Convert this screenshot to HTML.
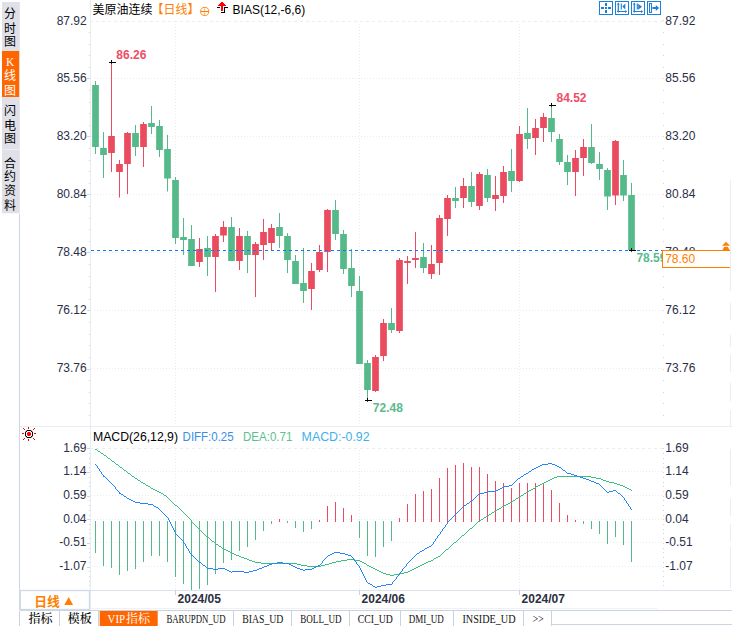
<!DOCTYPE html>
<html lang="zh-CN"><head><meta charset="utf-8"><title>美原油连续 日线 MACD</title>
<style>html,body{margin:0;padding:0;background:#fff;}body{width:732px;height:626px;position:relative;overflow:hidden;font-family:"Liberation Sans","Noto Sans CJK SC",sans-serif;}</style>
</head><body>
<svg width="732" height="626" viewBox="0 0 732 626" style="position:absolute;left:0;top:0">
<rect width="732" height="626" fill="#fff"/>
<rect x="2" y="2" width="17.8" height="211.3" fill="#e0e0e8"/>
<rect x="2" y="51" width="17.1" height="46" fill="#ff6600"/>
<rect x="2" y="149" width="17.8" height="1" fill="#eceef4"/>
<g font-family="'Liberation Sans','Noto Sans CJK SC',sans-serif" font-size="12" text-anchor="middle">
<text x="9.9" y="17.7" fill="#000">分</text>
<text x="9.9" y="32.5" fill="#000">时</text>
<text x="9.9" y="45.7" fill="#000">图</text>
<text x="9.9" y="80.3" fill="#fff">线</text>
<text x="9.9" y="94.9" fill="#fff">图</text>
<text x="9.9" y="115.0" fill="#000">闪</text>
<text x="9.9" y="130.0" fill="#000">电</text>
<text x="9.9" y="143.3" fill="#000">图</text>
<text x="9.9" y="168.1" fill="#000">合</text>
<text x="9.9" y="180.8" fill="#000">约</text>
<text x="9.9" y="195.4" fill="#000">资</text>
<text x="9.9" y="210.0" fill="#000">料</text>
</g>
<text x="10.1" y="65.9" fill="#fff" font-family="'Liberation Serif',serif" font-size="11.5" text-anchor="middle">K</text>
<g shape-rendering="crispEdges">
<rect x="19" y="214" width="1" height="396" fill="#cdd6e4"/>
<rect x="90" y="0" width="1" height="610" fill="#e8edf4"/>
<rect x="20" y="426" width="712" height="1" fill="#e8edf3"/>
<rect x="20" y="590" width="712" height="1" fill="#dbe2ec"/>
<rect x="730" y="180" width="1" height="111" fill="#e9edf3"/>
<rect x="730" y="303" width="1" height="17" fill="#e9edf3"/>
<rect x="730" y="335" width="1" height="12" fill="#e9edf3"/>
<rect x="730" y="355" width="1" height="17" fill="#e9edf3"/>
<rect x="730" y="383" width="1" height="18" fill="#e9edf3"/>
<rect x="730" y="410" width="1" height="16" fill="#e9edf3"/>
<rect x="730" y="449" width="1" height="37" fill="#e9edf3"/>
<rect x="730" y="499" width="1" height="17" fill="#e9edf3"/>
<rect x="730" y="524" width="1" height="17" fill="#e9edf3"/>
<rect x="730" y="547" width="1" height="41" fill="#e9edf3"/>
<rect x="90" y="607.5" width="567" height="1" fill="#eef1f5"/>
<rect x="20" y="609.7" width="712" height="1.5" fill="#c9d2de"/>
</g>
<g fill="none" stroke="#e8ecf1" stroke-width="1" shape-rendering="crispEdges">
<path d="M90 21.5H663" stroke-dasharray="3 3" stroke="#e6eef6"/>
<path d="M91 78.5H663" stroke-dasharray="1 2"/>
<path d="M91 136.5H663" stroke-dasharray="1 2"/>
<path d="M91 194.5H663" stroke-dasharray="1 2"/>
<path d="M91 252.5H663" stroke-dasharray="1 2"/>
<path d="M91 310.5H663" stroke-dasharray="1 2"/>
<path d="M91 368.5H663" stroke-dasharray="1 2"/>
<path d="M90 448.5H663" stroke-dasharray="3 3" stroke="#e6eef6"/>
<path d="M91 471.5H663" stroke-dasharray="1 2"/>
<path d="M91 495.5H663" stroke-dasharray="1 2"/>
<path d="M91 519.5H663" stroke-dasharray="1 2"/>
<path d="M91 542.5H663" stroke-dasharray="1 2"/>
<path d="M91 566.5H663" stroke-dasharray="1 2"/>
<path d="M175.5 24V426" stroke-dasharray="1 2"/>
<path d="M175.5 450V590" stroke-dasharray="1 2"/>
<path d="M359.5 24V426" stroke-dasharray="1 2"/>
<path d="M359.5 450V590" stroke-dasharray="1 2"/>
<path d="M519.5 24V426" stroke-dasharray="1 2"/>
<path d="M519.5 450V590" stroke-dasharray="1 2"/>
</g>
<g fill="#cfd5de" shape-rendering="crispEdges">
<rect x="663" y="20.0" width="1" height="1"/>
<rect x="89" y="32.0" width="1" height="1"/>
<rect x="663" y="32.0" width="1" height="1"/>
<rect x="89" y="44.0" width="1" height="1"/>
<rect x="663" y="44.0" width="1" height="1"/>
<rect x="89" y="55.0" width="1" height="1"/>
<rect x="663" y="55.0" width="1" height="1"/>
<rect x="89" y="67.0" width="1" height="1"/>
<rect x="663" y="67.0" width="1" height="1"/>
<rect x="87" y="78.0" width="3" height="1" />
<rect x="663" y="78.0" width="1" height="1"/>
<rect x="89" y="90.0" width="1" height="1"/>
<rect x="663" y="90.0" width="1" height="1"/>
<rect x="89" y="102.0" width="1" height="1"/>
<rect x="663" y="102.0" width="1" height="1"/>
<rect x="89" y="113.0" width="1" height="1"/>
<rect x="663" y="113.0" width="1" height="1"/>
<rect x="89" y="125.0" width="1" height="1"/>
<rect x="663" y="125.0" width="1" height="1"/>
<rect x="87" y="136.0" width="3" height="1" />
<rect x="663" y="136.0" width="1" height="1"/>
<rect x="89" y="148.0" width="1" height="1"/>
<rect x="663" y="148.0" width="1" height="1"/>
<rect x="89" y="160.0" width="1" height="1"/>
<rect x="663" y="160.0" width="1" height="1"/>
<rect x="89" y="171.0" width="1" height="1"/>
<rect x="663" y="171.0" width="1" height="1"/>
<rect x="89" y="183.0" width="1" height="1"/>
<rect x="663" y="183.0" width="1" height="1"/>
<rect x="87" y="194.0" width="3" height="1" />
<rect x="663" y="194.0" width="1" height="1"/>
<rect x="89" y="206.0" width="1" height="1"/>
<rect x="663" y="206.0" width="1" height="1"/>
<rect x="89" y="218.0" width="1" height="1"/>
<rect x="663" y="218.0" width="1" height="1"/>
<rect x="89" y="229.0" width="1" height="1"/>
<rect x="663" y="229.0" width="1" height="1"/>
<rect x="89" y="241.0" width="1" height="1"/>
<rect x="663" y="241.0" width="1" height="1"/>
<rect x="87" y="252.0" width="3" height="1" />
<rect x="663" y="252.0" width="1" height="1"/>
<rect x="89" y="264.0" width="1" height="1"/>
<rect x="663" y="264.0" width="1" height="1"/>
<rect x="89" y="276.0" width="1" height="1"/>
<rect x="663" y="276.0" width="1" height="1"/>
<rect x="89" y="287.0" width="1" height="1"/>
<rect x="663" y="287.0" width="1" height="1"/>
<rect x="89" y="299.0" width="1" height="1"/>
<rect x="663" y="299.0" width="1" height="1"/>
<rect x="87" y="310.0" width="3" height="1" />
<rect x="663" y="310.0" width="1" height="1"/>
<rect x="89" y="322.0" width="1" height="1"/>
<rect x="663" y="322.0" width="1" height="1"/>
<rect x="89" y="334.0" width="1" height="1"/>
<rect x="663" y="334.0" width="1" height="1"/>
<rect x="89" y="345.0" width="1" height="1"/>
<rect x="663" y="345.0" width="1" height="1"/>
<rect x="89" y="357.0" width="1" height="1"/>
<rect x="663" y="357.0" width="1" height="1"/>
<rect x="87" y="369.0" width="3" height="1" />
<rect x="663" y="369.0" width="1" height="1"/>
<rect x="89" y="380.0" width="1" height="1"/>
<rect x="663" y="380.0" width="1" height="1"/>
<rect x="89" y="392.0" width="1" height="1"/>
<rect x="663" y="392.0" width="1" height="1"/>
<rect x="89" y="403.0" width="1" height="1"/>
<rect x="663" y="403.0" width="1" height="1"/>
<rect x="89" y="415.0" width="1" height="1"/>
<rect x="663" y="415.0" width="1" height="1"/>
<rect x="87" y="448.0" width="3" height="1"/>
<rect x="663" y="448.0" width="1" height="1"/>
<rect x="89" y="453.0" width="1" height="1"/>
<rect x="663" y="453.0" width="1" height="1"/>
<rect x="89" y="458.0" width="1" height="1"/>
<rect x="663" y="458.0" width="1" height="1"/>
<rect x="89" y="463.0" width="1" height="1"/>
<rect x="663" y="463.0" width="1" height="1"/>
<rect x="89" y="467.0" width="1" height="1"/>
<rect x="663" y="467.0" width="1" height="1"/>
<rect x="87" y="472.0" width="3" height="1"/>
<rect x="663" y="472.0" width="1" height="1"/>
<rect x="89" y="477.0" width="1" height="1"/>
<rect x="663" y="477.0" width="1" height="1"/>
<rect x="89" y="482.0" width="1" height="1"/>
<rect x="663" y="482.0" width="1" height="1"/>
<rect x="89" y="486.0" width="1" height="1"/>
<rect x="663" y="486.0" width="1" height="1"/>
<rect x="89" y="491.0" width="1" height="1"/>
<rect x="663" y="491.0" width="1" height="1"/>
<rect x="87" y="496.0" width="3" height="1"/>
<rect x="663" y="496.0" width="1" height="1"/>
<rect x="89" y="500.0" width="1" height="1"/>
<rect x="663" y="500.0" width="1" height="1"/>
<rect x="89" y="505.0" width="1" height="1"/>
<rect x="663" y="505.0" width="1" height="1"/>
<rect x="89" y="510.0" width="1" height="1"/>
<rect x="663" y="510.0" width="1" height="1"/>
<rect x="89" y="515.0" width="1" height="1"/>
<rect x="663" y="515.0" width="1" height="1"/>
<rect x="87" y="519.0" width="3" height="1"/>
<rect x="663" y="519.0" width="1" height="1"/>
<rect x="89" y="524.0" width="1" height="1"/>
<rect x="663" y="524.0" width="1" height="1"/>
<rect x="89" y="529.0" width="1" height="1"/>
<rect x="663" y="529.0" width="1" height="1"/>
<rect x="89" y="533.0" width="1" height="1"/>
<rect x="663" y="533.0" width="1" height="1"/>
<rect x="89" y="538.0" width="1" height="1"/>
<rect x="663" y="538.0" width="1" height="1"/>
<rect x="87" y="543.0" width="3" height="1"/>
<rect x="663" y="543.0" width="1" height="1"/>
<rect x="89" y="548.0" width="1" height="1"/>
<rect x="663" y="548.0" width="1" height="1"/>
<rect x="89" y="552.0" width="1" height="1"/>
<rect x="663" y="552.0" width="1" height="1"/>
<rect x="89" y="557.0" width="1" height="1"/>
<rect x="663" y="557.0" width="1" height="1"/>
<rect x="89" y="562.0" width="1" height="1"/>
<rect x="663" y="562.0" width="1" height="1"/>
<rect x="87" y="567.0" width="3" height="1"/>
<rect x="663" y="567.0" width="1" height="1"/>
<rect x="89" y="571.0" width="1" height="1"/>
<rect x="663" y="571.0" width="1" height="1"/>
<rect x="89" y="576.0" width="1" height="1"/>
<rect x="663" y="576.0" width="1" height="1"/>
<rect x="89" y="581.0" width="1" height="1"/>
<rect x="663" y="581.0" width="1" height="1"/>
<rect x="89" y="585.0" width="1" height="1"/>
<rect x="663" y="585.0" width="1" height="1"/>
</g>
<g font-family="'Liberation Sans',sans-serif" font-size="12" fill="#2a2f48">
<text x="86.7" y="25.0" text-anchor="end">87.92</text>
<text x="665.3" y="25.0">87.92</text>
<text x="86.7" y="82.2" text-anchor="end">85.56</text>
<text x="665.3" y="82.2">85.56</text>
<text x="86.7" y="140.1" text-anchor="end">83.20</text>
<text x="665.3" y="140.1">83.20</text>
<text x="86.7" y="198.1" text-anchor="end">80.84</text>
<text x="665.3" y="198.1">80.84</text>
<text x="86.7" y="256.1" text-anchor="end">78.48</text>
<text x="665.3" y="256.1">78.48</text>
<text x="86.7" y="314.1" text-anchor="end">76.12</text>
<text x="665.3" y="314.1">76.12</text>
<text x="86.7" y="372.2" text-anchor="end">73.76</text>
<text x="665.3" y="372.2">73.76</text>
<text x="86.5" y="452.1" text-anchor="end">1.69</text>
<text x="665.3" y="452.1">1.69</text>
<text x="86.5" y="475.3" text-anchor="end">1.14</text>
<text x="665.3" y="475.3">1.14</text>
<text x="86.5" y="498.8" text-anchor="end">0.59</text>
<text x="665.3" y="498.8">0.59</text>
<text x="86.5" y="522.7" text-anchor="end">0.04</text>
<text x="665.3" y="522.7">0.04</text>
<text x="86.5" y="546.3" text-anchor="end">-0.51</text>
<text x="665.3" y="546.3">-0.51</text>
<text x="86.5" y="569.8" text-anchor="end">-1.07</text>
<text x="665.3" y="569.8">-1.07</text>
</g>
<g>
<rect x="95.0" y="81.0" width="1" height="73.0" fill="#56b989"/>
<rect x="92.15" y="85.0" width="6.7" height="62.0" fill="#56b989"/>
<rect x="103.0" y="132.0" width="1" height="46.0" fill="#56b989"/>
<rect x="100.15" y="148.0" width="6.7" height="7.0" fill="#56b989"/>
<rect x="111.0" y="62.0" width="1" height="110.0" fill="#eb4b5f"/>
<rect x="108.15" y="136.0" width="6.7" height="17.0" fill="#eb4b5f"/>
<rect x="119.0" y="160.0" width="1" height="37.5" fill="#eb4b5f"/>
<rect x="116.15" y="164.0" width="6.7" height="8.0" fill="#eb4b5f"/>
<rect x="127.0" y="132.0" width="1" height="62.0" fill="#eb4b5f"/>
<rect x="124.15" y="133.0" width="6.7" height="31.0" fill="#eb4b5f"/>
<rect x="135.0" y="125.0" width="1" height="31.0" fill="#56b989"/>
<rect x="132.15" y="133.0" width="6.7" height="14.0" fill="#56b989"/>
<rect x="143.0" y="122.0" width="1" height="45.0" fill="#eb4b5f"/>
<rect x="140.15" y="124.0" width="6.7" height="23.0" fill="#eb4b5f"/>
<rect x="151.0" y="106.0" width="1" height="28.0" fill="#56b989"/>
<rect x="148.15" y="123.0" width="6.7" height="4.0" fill="#56b989"/>
<rect x="159.0" y="120.0" width="1" height="37.0" fill="#56b989"/>
<rect x="156.15" y="126.0" width="6.7" height="24.0" fill="#56b989"/>
<rect x="167.0" y="135.0" width="1" height="56.5" fill="#56b989"/>
<rect x="164.15" y="149.0" width="6.7" height="29.5" fill="#56b989"/>
<rect x="175.0" y="177.0" width="1" height="67.0" fill="#56b989"/>
<rect x="172.15" y="180.0" width="6.7" height="58.0" fill="#56b989"/>
<rect x="183.0" y="218.0" width="1" height="37.0" fill="#56b989"/>
<rect x="180.15" y="237.0" width="6.7" height="3.0" fill="#56b989"/>
<rect x="191.0" y="225.0" width="1" height="41.0" fill="#56b989"/>
<rect x="188.15" y="239.0" width="6.7" height="27.0" fill="#56b989"/>
<rect x="199.0" y="238.0" width="1" height="29.0" fill="#eb4b5f"/>
<rect x="196.15" y="249.0" width="6.7" height="13.0" fill="#eb4b5f"/>
<rect x="207.0" y="236.0" width="1" height="40.0" fill="#56b989"/>
<rect x="204.15" y="248.0" width="6.7" height="9.0" fill="#56b989"/>
<rect x="215.0" y="234.0" width="1" height="58.0" fill="#eb4b5f"/>
<rect x="212.15" y="236.0" width="6.7" height="21.0" fill="#eb4b5f"/>
<rect x="223.0" y="221.0" width="1" height="21.0" fill="#eb4b5f"/>
<rect x="220.15" y="227.0" width="6.7" height="8.5" fill="#eb4b5f"/>
<rect x="231.0" y="217.0" width="1" height="44.0" fill="#56b989"/>
<rect x="228.15" y="227.0" width="6.7" height="34.0" fill="#56b989"/>
<rect x="239.0" y="228.0" width="1" height="42.0" fill="#eb4b5f"/>
<rect x="236.15" y="236.0" width="6.7" height="25.0" fill="#eb4b5f"/>
<rect x="247.0" y="231.0" width="1" height="42.0" fill="#56b989"/>
<rect x="244.15" y="236.0" width="6.7" height="19.0" fill="#56b989"/>
<rect x="255.0" y="242.0" width="1" height="55.0" fill="#eb4b5f"/>
<rect x="252.15" y="244.0" width="6.7" height="11.0" fill="#eb4b5f"/>
<rect x="263.0" y="219.0" width="1" height="41.0" fill="#eb4b5f"/>
<rect x="260.15" y="232.0" width="6.7" height="13.0" fill="#eb4b5f"/>
<rect x="271.0" y="224.0" width="1" height="26.0" fill="#eb4b5f"/>
<rect x="268.15" y="228.0" width="6.7" height="15.0" fill="#eb4b5f"/>
<rect x="279.0" y="213.0" width="1" height="35.0" fill="#56b989"/>
<rect x="276.15" y="227.0" width="6.7" height="9.0" fill="#56b989"/>
<rect x="287.0" y="233.0" width="1" height="40.0" fill="#56b989"/>
<rect x="284.15" y="236.0" width="6.7" height="24.0" fill="#56b989"/>
<rect x="295.0" y="255.0" width="1" height="29.0" fill="#56b989"/>
<rect x="292.15" y="261.0" width="6.7" height="23.0" fill="#56b989"/>
<rect x="303.0" y="248.0" width="1" height="55.0" fill="#56b989"/>
<rect x="300.15" y="283.0" width="6.7" height="8.0" fill="#56b989"/>
<rect x="311.0" y="263.0" width="1" height="47.0" fill="#eb4b5f"/>
<rect x="308.15" y="271.0" width="6.7" height="18.0" fill="#eb4b5f"/>
<rect x="319.0" y="245.0" width="1" height="27.0" fill="#eb4b5f"/>
<rect x="316.15" y="252.0" width="6.7" height="18.0" fill="#eb4b5f"/>
<rect x="327.0" y="209.0" width="1" height="63.0" fill="#eb4b5f"/>
<rect x="324.15" y="210.0" width="6.7" height="42.0" fill="#eb4b5f"/>
<rect x="335.0" y="200.0" width="1" height="40.0" fill="#56b989"/>
<rect x="332.15" y="210.0" width="6.7" height="24.0" fill="#56b989"/>
<rect x="343.0" y="230.0" width="1" height="44.0" fill="#56b989"/>
<rect x="340.15" y="234.0" width="6.7" height="35.0" fill="#56b989"/>
<rect x="351.0" y="249.0" width="1" height="48.0" fill="#56b989"/>
<rect x="348.15" y="268.0" width="6.7" height="18.0" fill="#56b989"/>
<rect x="359.0" y="276.0" width="1" height="88.0" fill="#56b989"/>
<rect x="356.15" y="291.0" width="6.7" height="73.0" fill="#56b989"/>
<rect x="367.0" y="360.0" width="1" height="40.0" fill="#56b989"/>
<rect x="364.15" y="363.0" width="6.7" height="27.0" fill="#56b989"/>
<rect x="375.0" y="355.0" width="1" height="37.0" fill="#eb4b5f"/>
<rect x="372.15" y="357.0" width="6.7" height="34.0" fill="#eb4b5f"/>
<rect x="383.0" y="319.0" width="1" height="42.0" fill="#eb4b5f"/>
<rect x="380.15" y="323.0" width="6.7" height="33.0" fill="#eb4b5f"/>
<rect x="391.0" y="308.0" width="1" height="25.0" fill="#56b989"/>
<rect x="388.15" y="323.0" width="6.7" height="7.0" fill="#56b989"/>
<rect x="399.0" y="258.0" width="1" height="75.0" fill="#eb4b5f"/>
<rect x="396.15" y="260.0" width="6.7" height="71.0" fill="#eb4b5f"/>
<rect x="407.0" y="256.0" width="1" height="28.0" fill="#eb4b5f"/>
<rect x="404.15" y="261.0" width="6.7" height="2.0" fill="#eb4b5f"/>
<rect x="415.0" y="232.0" width="1" height="36.0" fill="#eb4b5f"/>
<rect x="412.15" y="258.0" width="6.7" height="2.0" fill="#eb4b5f"/>
<rect x="423.0" y="243.0" width="1" height="30.0" fill="#56b989"/>
<rect x="420.15" y="257.0" width="6.7" height="11.0" fill="#56b989"/>
<rect x="431.0" y="245.0" width="1" height="34.0" fill="#eb4b5f"/>
<rect x="428.15" y="264.0" width="6.7" height="10.0" fill="#eb4b5f"/>
<rect x="439.0" y="215.0" width="1" height="60.0" fill="#eb4b5f"/>
<rect x="436.15" y="218.0" width="6.7" height="45.0" fill="#eb4b5f"/>
<rect x="447.0" y="195.0" width="1" height="41.0" fill="#eb4b5f"/>
<rect x="444.15" y="198.0" width="6.7" height="21.0" fill="#eb4b5f"/>
<rect x="455.0" y="187.0" width="1" height="21.0" fill="#56b989"/>
<rect x="452.15" y="198.0" width="6.7" height="3.0" fill="#56b989"/>
<rect x="463.0" y="178.0" width="1" height="30.0" fill="#eb4b5f"/>
<rect x="460.15" y="186.0" width="6.7" height="12.0" fill="#eb4b5f"/>
<rect x="471.0" y="172.0" width="1" height="35.0" fill="#56b989"/>
<rect x="468.15" y="186.0" width="6.7" height="16.0" fill="#56b989"/>
<rect x="479.0" y="172.0" width="1" height="38.0" fill="#eb4b5f"/>
<rect x="476.15" y="174.0" width="6.7" height="32.0" fill="#eb4b5f"/>
<rect x="487.0" y="169.0" width="1" height="33.0" fill="#56b989"/>
<rect x="484.15" y="175.0" width="6.7" height="23.0" fill="#56b989"/>
<rect x="495.0" y="176.0" width="1" height="35.0" fill="#eb4b5f"/>
<rect x="492.15" y="195.0" width="6.7" height="4.0" fill="#eb4b5f"/>
<rect x="503.0" y="166.0" width="1" height="37.0" fill="#eb4b5f"/>
<rect x="500.15" y="172.0" width="6.7" height="24.0" fill="#eb4b5f"/>
<rect x="511.0" y="149.0" width="1" height="43.0" fill="#56b989"/>
<rect x="508.15" y="171.0" width="6.7" height="10.0" fill="#56b989"/>
<rect x="519.0" y="126.0" width="1" height="56.0" fill="#eb4b5f"/>
<rect x="516.15" y="134.0" width="6.7" height="47.0" fill="#eb4b5f"/>
<rect x="527.0" y="108.0" width="1" height="41.0" fill="#56b989"/>
<rect x="524.15" y="133.0" width="6.7" height="6.0" fill="#56b989"/>
<rect x="535.0" y="119.0" width="1" height="36.0" fill="#eb4b5f"/>
<rect x="532.15" y="128.0" width="6.7" height="10.0" fill="#eb4b5f"/>
<rect x="543.0" y="113.0" width="1" height="29.0" fill="#eb4b5f"/>
<rect x="540.15" y="117.0" width="6.7" height="11.0" fill="#eb4b5f"/>
<rect x="551.0" y="105.5" width="1" height="36.5" fill="#56b989"/>
<rect x="548.15" y="118.0" width="6.7" height="14.0" fill="#56b989"/>
<rect x="559.0" y="134.0" width="1" height="31.0" fill="#56b989"/>
<rect x="556.15" y="139.0" width="6.7" height="23.0" fill="#56b989"/>
<rect x="567.0" y="155.0" width="1" height="30.0" fill="#56b989"/>
<rect x="564.15" y="162.0" width="6.7" height="10.0" fill="#56b989"/>
<rect x="575.0" y="150.0" width="1" height="46.0" fill="#eb4b5f"/>
<rect x="572.15" y="158.0" width="6.7" height="14.0" fill="#eb4b5f"/>
<rect x="583.0" y="139.0" width="1" height="37.0" fill="#eb4b5f"/>
<rect x="580.15" y="147.0" width="6.7" height="11.0" fill="#eb4b5f"/>
<rect x="591.0" y="124.0" width="1" height="40.0" fill="#56b989"/>
<rect x="588.15" y="147.0" width="6.7" height="16.0" fill="#56b989"/>
<rect x="599.0" y="152.0" width="1" height="28.0" fill="#56b989"/>
<rect x="596.15" y="164.0" width="6.7" height="5.0" fill="#56b989"/>
<rect x="607.0" y="168.0" width="1" height="42.0" fill="#56b989"/>
<rect x="604.15" y="170.0" width="6.7" height="26.5" fill="#56b989"/>
<rect x="615.0" y="140.0" width="1" height="65.0" fill="#eb4b5f"/>
<rect x="612.15" y="141.0" width="6.7" height="54.5" fill="#eb4b5f"/>
<rect x="623.0" y="160.0" width="1" height="41.0" fill="#56b989"/>
<rect x="620.15" y="175.0" width="6.7" height="20.5" fill="#56b989"/>
<rect x="631.0" y="183.0" width="1" height="67.0" fill="#56b989"/>
<rect x="628.15" y="195.0" width="6.7" height="55.0" fill="#56b989"/>
</g>
<path d="M91 250.5H662" stroke="#0d7bf5" stroke-width="1" stroke-dasharray="3 3" fill="none" shape-rendering="crispEdges"/>
<g fill="#000" shape-rendering="crispEdges"><rect x="109.0" y="62" width="7" height="1"/></g><rect x="111.0" y="60" width="1" height="3.7" fill="#000"/>
<g fill="#000" shape-rendering="crispEdges"><rect x="549.0" y="105" width="7" height="1"/></g><rect x="551.0" y="103" width="1" height="3.7" fill="#000"/>
<g fill="#000" shape-rendering="crispEdges"><rect x="365.0" y="400" width="7" height="1"/></g><rect x="367.0" y="398" width="1" height="3.7" fill="#000"/>
<g fill="#000" shape-rendering="crispEdges"><rect x="629.0" y="250" width="7" height="1"/></g><rect x="631.0" y="248" width="1" height="3.7" fill="#000"/>
<g font-family="'Liberation Sans',sans-serif" font-size="12" font-weight="bold">
<text x="116.3" y="58.7" fill="#ee4d66">86.26</text>
<text x="556.5" y="102" fill="#ee4d66">84.52</text>
<text x="372.8" y="411.6" fill="#5cba8c">72.48</text>
<text x="636.4" y="262.3" fill="#5cba8c">78.59</text>
</g>
<rect x="662" y="250" width="68" height="18" fill="#fff"/>
<g fill="#ff8000" shape-rendering="crispEdges"><rect x="662" y="250" width="68" height="1.2"/><rect x="662" y="266.9" width="68" height="1.1"/><rect x="662" y="250" width="1.2" height="18"/></g>
<text x="665.2" y="263" fill="#ff8000" font-family="'Liberation Sans',sans-serif" font-size="12">78.60</text>
<path d="M726 241.8l4 4h-8zM724.2 246.7h3.6l2.2 4.1h-8z" fill="#ff8000"/>
<g font-family="'Liberation Sans','Noto Sans CJK SC',sans-serif" font-size="12">
<text x="92.6" y="14.2" fill="#000" textLength="60" lengthAdjust="spacing">美原油连续</text>
<text x="151.6" y="14.2" fill="#ff8000">【日线】</text>
<text x="232.6" y="14.3" fill="#000">BIAS(12,-6,6)</text>
</g>
<g stroke="#ff8000" fill="none"><circle cx="204.7" cy="11.45" r="4.05" stroke-width="0.9"/><path d="M200.7 11.5h8" stroke-width="1"/><path d="M204.6 7.5v7.9" stroke-width="0.7" opacity="0.8"/></g>
<g shape-rendering="crispEdges" fill="#ff0000"><rect x="221" y="2" width="2" height="9"/><rect x="220" y="3" width="4" height="1"/><rect x="219" y="4" width="6" height="1"/><rect x="218" y="5" width="8" height="1"/></g>
<g shape-rendering="crispEdges" fill="#000"><rect x="217" y="7" width="3" height="1"/><rect x="224" y="7" width="4" height="1"/><rect x="224" y="7" width="1" height="6"/><rect x="221" y="12" width="4" height="1"/></g>
<rect x="599.5" y="1.5" width="13" height="13" fill="#fff" stroke="#1e7fd8" stroke-width="1"/>
<rect x="615.5" y="1.5" width="13" height="13" fill="#fff" stroke="#1e7fd8" stroke-width="1"/>
<rect x="631.5" y="1.5" width="13" height="13" fill="#fff" stroke="#1e7fd8" stroke-width="1"/>
<rect x="647.5" y="1.5" width="13" height="13" fill="#fff" stroke="#1e7fd8" stroke-width="1"/>
<g fill="#1e7fd8" shape-rendering="crispEdges"><rect x="605" y="7" width="2" height="2"/><rect x="601" y="7" width="3" height="2"/><rect x="608" y="7" width="3" height="2"/><rect x="605" y="3" width="2" height="3"/><rect x="605" y="10" width="2" height="3"/></g>
<g stroke="#1e7fd8" stroke-width="1.2" fill="none"><path d="M618.3 3.6v8.6M617.1 11.5h9.4"/></g>
<path d="M618.3 2.6l1.5 2h-3zM618.3 13l1.5-2h-3zM627.1 11.5l-2-1.5v3zM616.7 11.5l2-1.5v3z" fill="#1e7fd8"/>
<g stroke="#1e7fd8" stroke-width="1.2" fill="none"><path d="M634.3 3.6v8.6M633.1 11.5h9.4"/></g>
<path d="M634.3 2.6l1.5 2h-3zM634.3 13l1.5-2h-3zM643.1 11.5l-2-1.5v3zM632.7 11.5l2-1.5v3z" fill="#1e7fd8"/>
<path d="M621.3 3.6v5.8" stroke="#1e7fd8" stroke-width="1.1" fill="none"/><path d="M622.3 6.5l3-2.9v5.8z" fill="#1e7fd8"/>
<path d="M637.3 3.6v6" stroke="#1e7fd8" stroke-width="1.1" fill="none"/><path d="M638.2 3.8l3.8 3-3.8 3z" fill="#1e7fd8"/>
<rect x="649.5" y="3.5" width="2.4" height="9" fill="#fff" stroke="#1e7fd8" stroke-width="1" shape-rendering="crispEdges"/>
<path d="M652.4 6.9h3.4v-2l3.3 3-3.3 3v-2h-3.4z" fill="#1e7fd8"/>
<g font-family="'Liberation Sans',sans-serif" font-size="12">
<text x="93" y="441" fill="#000" textLength="85" lengthAdjust="spacingAndGlyphs">MACD(26,12,9)</text>
<text x="182.6" y="441" fill="#3a8ee8" textLength="51" lengthAdjust="spacingAndGlyphs">DIFF:0.25</text>
<text x="243" y="441" fill="#5cc08e" textLength="49.3" lengthAdjust="spacingAndGlyphs">DEA:0.71</text>
<text x="301.6" y="441" fill="#3fb0ea" textLength="68" lengthAdjust="spacingAndGlyphs">MACD:-0.92</text>
</g>
<g shape-rendering="crispEdges">
<rect x="27" y="430" width="4" height="1" fill="#000"/>
<rect x="26" y="431" width="1" height="1" fill="#000"/>
<rect x="31" y="431" width="1" height="1" fill="#000"/>
<rect x="25" y="432" width="1" height="4" fill="#000"/>
<rect x="32" y="432" width="1" height="4" fill="#000"/>
<rect x="26" y="436" width="1" height="1" fill="#000"/>
<rect x="31" y="436" width="1" height="1" fill="#000"/>
<rect x="27" y="437" width="4" height="1" fill="#000"/>
<rect x="28" y="432" width="2" height="4" fill="#ff0000"/>
<rect x="27" y="433" width="4" height="2" fill="#ff0000"/>
<rect x="28" y="427" width="1" height="2" fill="#ff0000"/>
<rect x="28" y="439" width="1" height="2" fill="#ff0000"/>
<rect x="22" y="433" width="2" height="1" fill="#ff0000"/>
<rect x="34" y="433" width="2" height="1" fill="#ff0000"/>
<rect x="23" y="428" width="1" height="1" fill="#ff0000"/>
<rect x="24" y="429" width="1" height="1" fill="#ff0000"/>
<rect x="34" y="428" width="1" height="1" fill="#ff0000"/>
<rect x="33" y="429" width="1" height="1" fill="#ff0000"/>
<rect x="24" y="438" width="1" height="1" fill="#ff0000"/>
<rect x="23" y="439" width="1" height="1" fill="#ff0000"/>
<rect x="33" y="438" width="1" height="1" fill="#ff0000"/>
<rect x="34" y="439" width="1" height="1" fill="#ff0000"/>
</g>
<rect x="27" y="432" width="4" height="4" fill="#ff0000" opacity="0.45"/>
<g fill="#000" opacity="0.35" shape-rendering="crispEdges"><rect x="26" y="430" width="1" height="1"/><rect x="31" y="430" width="1" height="1"/><rect x="25" y="431" width="1" height="1"/><rect x="32" y="431" width="1" height="1"/><rect x="25" y="436" width="1" height="1"/><rect x="32" y="436" width="1" height="1"/><rect x="26" y="437" width="1" height="1"/><rect x="31" y="437" width="1" height="1"/></g>
<g shape-rendering="crispEdges">
<rect x="95.0" y="521.0" width="1" height="32.0" fill="#56b989"/>
<rect x="103.0" y="521.0" width="1" height="45.0" fill="#56b989"/>
<rect x="111.0" y="521.0" width="1" height="47.0" fill="#56b989"/>
<rect x="119.0" y="521.0" width="1" height="54.0" fill="#56b989"/>
<rect x="127.0" y="521.0" width="1" height="50.0" fill="#56b989"/>
<rect x="135.0" y="521.0" width="1" height="48.0" fill="#56b989"/>
<rect x="143.0" y="521.0" width="1" height="41.0" fill="#56b989"/>
<rect x="151.0" y="521.0" width="1" height="35.0" fill="#56b989"/>
<rect x="159.0" y="521.0" width="1" height="35.0" fill="#56b989"/>
<rect x="167.0" y="521.0" width="1" height="41.0" fill="#56b989"/>
<rect x="175.0" y="521.0" width="1" height="56.0" fill="#56b989"/>
<rect x="183.0" y="521.0" width="1" height="63.0" fill="#56b989"/>
<rect x="191.0" y="521.0" width="1" height="69.0" fill="#56b989"/>
<rect x="199.0" y="521.0" width="1" height="68.0" fill="#56b989"/>
<rect x="207.0" y="521.0" width="1" height="64.0" fill="#56b989"/>
<rect x="215.0" y="521.0" width="1" height="53.0" fill="#56b989"/>
<rect x="223.0" y="521.0" width="1" height="42.0" fill="#56b989"/>
<rect x="231.0" y="521.0" width="1" height="39.0" fill="#56b989"/>
<rect x="239.0" y="521.0" width="1" height="30.0" fill="#56b989"/>
<rect x="247.0" y="521.0" width="1" height="26.0" fill="#56b989"/>
<rect x="255.0" y="521.0" width="1" height="19.0" fill="#56b989"/>
<rect x="263.0" y="521.0" width="1" height="10.0" fill="#56b989"/>
<rect x="271.0" y="521.0" width="1" height="3.0" fill="#56b989"/>
<rect x="279.0" y="519.0" width="1" height="3.0" fill="#eb4b5f"/>
<rect x="287.0" y="521.0" width="1" height="1.5" fill="#56b989"/>
<rect x="295.0" y="521.0" width="1" height="7.0" fill="#56b989"/>
<rect x="303.0" y="521.0" width="1" height="11.0" fill="#56b989"/>
<rect x="311.0" y="521.0" width="1" height="8.0" fill="#56b989"/>
<rect x="319.0" y="520.0" width="1" height="2.0" fill="#eb4b5f"/>
<rect x="327.0" y="506.0" width="1" height="16.0" fill="#eb4b5f"/>
<rect x="335.0" y="502.0" width="1" height="20.0" fill="#eb4b5f"/>
<rect x="343.0" y="508.0" width="1" height="14.0" fill="#eb4b5f"/>
<rect x="351.0" y="515.0" width="1" height="7.0" fill="#eb4b5f"/>
<rect x="359.0" y="521.0" width="1" height="17.0" fill="#56b989"/>
<rect x="367.0" y="521.0" width="1" height="35.0" fill="#56b989"/>
<rect x="375.0" y="521.0" width="1" height="36.0" fill="#56b989"/>
<rect x="383.0" y="521.0" width="1" height="26.0" fill="#56b989"/>
<rect x="391.0" y="521.0" width="1" height="20.0" fill="#56b989"/>
<rect x="399.0" y="518.0" width="1" height="4.0" fill="#eb4b5f"/>
<rect x="407.0" y="504.0" width="1" height="18.0" fill="#eb4b5f"/>
<rect x="415.0" y="494.0" width="1" height="28.0" fill="#eb4b5f"/>
<rect x="423.0" y="491.0" width="1" height="31.0" fill="#eb4b5f"/>
<rect x="431.0" y="489.0" width="1" height="33.0" fill="#eb4b5f"/>
<rect x="439.0" y="478.0" width="1" height="44.0" fill="#eb4b5f"/>
<rect x="447.0" y="468.0" width="1" height="54.0" fill="#eb4b5f"/>
<rect x="455.0" y="465.0" width="1" height="57.0" fill="#eb4b5f"/>
<rect x="463.0" y="463.0" width="1" height="59.0" fill="#eb4b5f"/>
<rect x="471.0" y="467.0" width="1" height="55.0" fill="#eb4b5f"/>
<rect x="479.0" y="467.0" width="1" height="55.0" fill="#eb4b5f"/>
<rect x="487.0" y="474.0" width="1" height="48.0" fill="#eb4b5f"/>
<rect x="495.0" y="481.0" width="1" height="41.0" fill="#eb4b5f"/>
<rect x="503.0" y="483.0" width="1" height="39.0" fill="#eb4b5f"/>
<rect x="511.0" y="488.0" width="1" height="34.0" fill="#eb4b5f"/>
<rect x="519.0" y="483.0" width="1" height="39.0" fill="#eb4b5f"/>
<rect x="527.0" y="483.0" width="1" height="39.0" fill="#eb4b5f"/>
<rect x="535.0" y="483.0" width="1" height="39.0" fill="#eb4b5f"/>
<rect x="543.0" y="484.0" width="1" height="38.0" fill="#eb4b5f"/>
<rect x="551.0" y="490.0" width="1" height="32.0" fill="#eb4b5f"/>
<rect x="559.0" y="503.0" width="1" height="19.0" fill="#eb4b5f"/>
<rect x="567.0" y="515.0" width="1" height="7.0" fill="#eb4b5f"/>
<rect x="575.0" y="520.2" width="1" height="1.8" fill="#eb4b5f"/>
<rect x="583.0" y="521.0" width="1" height="3.0" fill="#56b989"/>
<rect x="591.0" y="521.0" width="1" height="8.0" fill="#56b989"/>
<rect x="599.0" y="521.0" width="1" height="13.0" fill="#56b989"/>
<rect x="607.0" y="521.0" width="1" height="23.0" fill="#56b989"/>
<rect x="615.0" y="521.0" width="1" height="16.0" fill="#56b989"/>
<rect x="623.0" y="521.0" width="1" height="24.0" fill="#56b989"/>
<rect x="631.0" y="521.0" width="1" height="41.0" fill="#56b989"/>
</g>
<path d="M95 449h2v1h-2zM97 450h1v1h-1zM98 451h2v1h-2zM100 452h1v1h-1zM101 453h2v1h-2zM103 454h1v1h-1zM104 455h2v1h-2zM106 456h1v1h-1zM107 457h1v1h-1zM108 458h2v1h-2zM110 459h1v1h-1zM111 460h1v1h-1zM112 461h2v1h-2zM114 462h1v1h-1zM115 463h1v1h-1zM116 464h2v1h-2zM118 465h1v1h-1zM119 466h1v1h-1zM120 467h2v1h-2zM122 468h1v1h-1zM123 469h1v1h-1zM124 470h2v1h-2zM126 471h1v1h-1zM127 472h1v1h-1zM128 473h2v1h-2zM130 474h1v1h-1zM131 475h1v1h-1zM132 476h2v1h-2zM557 476h34v1h-34zM134 477h1v1h-1zM554 477h3v1h-3zM591 477h5v1h-5zM135 478h2v1h-2zM552 478h2v1h-2zM596 478h5v1h-5zM137 479h1v1h-1zM550 479h2v1h-2zM601 479h2v1h-2zM138 480h2v1h-2zM548 480h2v1h-2zM603 480h3v1h-3zM140 481h1v1h-1zM546 481h2v1h-2zM606 481h3v1h-3zM141 482h2v1h-2zM544 482h2v1h-2zM609 482h5v1h-5zM143 483h2v1h-2zM542 483h2v1h-2zM614 483h3v1h-3zM145 484h1v1h-1zM540 484h2v1h-2zM617 484h3v1h-3zM146 485h2v1h-2zM538 485h2v1h-2zM620 485h3v1h-3zM148 486h2v1h-2zM536 486h2v1h-2zM623 486h2v1h-2zM150 487h1v1h-1zM535 487h1v1h-1zM625 487h2v1h-2zM151 488h2v1h-2zM533 488h2v1h-2zM627 488h2v1h-2zM153 489h2v1h-2zM531 489h2v1h-2zM629 489h2v1h-2zM155 490h2v1h-2zM529 490h2v1h-2zM631 490h1v1h-1zM157 491h2v1h-2zM528 491h1v1h-1zM159 492h2v1h-2zM526 492h2v1h-2zM161 493h2v1h-2zM524 493h2v1h-2zM163 494h1v1h-1zM523 494h1v1h-1zM164 495h2v1h-2zM521 495h2v1h-2zM166 496h1v1h-1zM520 496h1v1h-1zM167 497h1v1h-1zM518 497h2v1h-2zM168 498h1v1h-1zM516 498h2v1h-2zM169 499h1v1h-1zM515 499h1v1h-1zM170 500h1v1h-1zM513 500h2v1h-2zM171 501h1v1h-1zM512 501h1v1h-1zM172 502h1v1h-1zM510 502h2v1h-2zM173 503h1v1h-1zM508 503h2v1h-2zM174 504h1v1h-1zM506 504h2v1h-2zM175 505h2v1h-2zM504 505h2v1h-2zM177 506h1v1h-1zM502 506h2v1h-2zM178 507h1v1h-1zM501 507h1v1h-1zM179 508h1v1h-1zM499 508h2v1h-2zM180 509h1v1h-1zM497 509h2v1h-2zM181 510h1v1h-1zM496 510h1v1h-1zM182 511h1v1h-1zM494 511h2v1h-2zM183 512h1v1h-1zM492 512h2v1h-2zM184 513h1v1h-1zM491 513h1v1h-1zM185 514h1v1h-1zM489 514h2v1h-2zM186 515h1v1h-1zM488 515h1v1h-1zM187 516h1v1h-1zM486 516h2v1h-2zM188 517h1v1h-1zM484 517h2v1h-2zM189 518h1v1h-1zM483 518h1v1h-1zM190 519h1v1h-1zM481 519h2v1h-2zM191 520h1v1h-1zM480 520h1v1h-1zM191 521h1v1h-1zM478 521h2v1h-2zM192 522h1v1h-1zM477 522h1v1h-1zM193 523h1v1h-1zM476 523h1v1h-1zM194 524h1v1h-1zM475 524h1v1h-1zM195 525h1v1h-1zM474 525h1v1h-1zM196 526h1v1h-1zM473 526h1v1h-1zM197 527h1v1h-1zM472 527h1v1h-1zM198 528h1v1h-1zM470 528h2v1h-2zM199 529h1v1h-1zM469 529h1v1h-1zM200 530h1v1h-1zM468 530h1v1h-1zM201 531h1v1h-1zM467 531h1v1h-1zM202 532h1v1h-1zM466 532h1v1h-1zM203 533h1v1h-1zM465 533h1v1h-1zM204 534h1v1h-1zM464 534h1v1h-1zM205 535h1v1h-1zM462 535h2v1h-2zM206 536h1v1h-1zM461 536h1v1h-1zM207 537h2v1h-2zM460 537h1v1h-1zM209 538h1v1h-1zM459 538h1v1h-1zM210 539h1v1h-1zM458 539h1v1h-1zM211 540h1v1h-1zM457 540h1v1h-1zM212 541h2v1h-2zM456 541h1v1h-1zM214 542h1v1h-1zM454 542h2v1h-2zM215 543h1v1h-1zM453 543h1v1h-1zM216 544h2v1h-2zM452 544h1v1h-1zM218 545h1v1h-1zM451 545h1v1h-1zM219 546h2v1h-2zM450 546h1v1h-1zM221 547h1v1h-1zM449 547h1v1h-1zM222 548h2v1h-2zM448 548h1v1h-1zM224 549h2v1h-2zM446 549h2v1h-2zM226 550h2v1h-2zM445 550h1v1h-1zM228 551h2v1h-2zM444 551h1v1h-1zM230 552h2v1h-2zM443 552h1v1h-1zM232 553h2v1h-2zM442 553h1v1h-1zM234 554h2v1h-2zM441 554h1v1h-1zM236 555h3v1h-3zM440 555h1v1h-1zM239 556h2v1h-2zM438 556h2v1h-2zM241 557h3v1h-3zM436 557h2v1h-2zM244 558h3v1h-3zM434 558h2v1h-2zM247 559h2v1h-2zM347 559h8v1h-8zM433 559h1v1h-1zM249 560h3v1h-3zM341 560h6v1h-6zM355 560h5v1h-5zM431 560h2v1h-2zM252 561h3v1h-3zM336 561h5v1h-5zM360 561h2v1h-2zM428 561h3v1h-3zM255 562h6v1h-6zM332 562h4v1h-4zM362 562h2v1h-2zM426 562h2v1h-2zM261 563h36v1h-36zM329 563h3v1h-3zM364 563h2v1h-2zM424 563h2v1h-2zM297 564h4v1h-4zM325 564h4v1h-4zM366 564h1v1h-1zM422 564h2v1h-2zM301 565h6v1h-6zM321 565h4v1h-4zM367 565h2v1h-2zM420 565h2v1h-2zM307 566h14v1h-14zM369 566h2v1h-2zM418 566h2v1h-2zM371 567h2v1h-2zM416 567h2v1h-2zM373 568h2v1h-2zM414 568h2v1h-2zM375 569h2v1h-2zM412 569h2v1h-2zM377 570h2v1h-2zM410 570h2v1h-2zM379 571h2v1h-2zM408 571h2v1h-2zM381 572h2v1h-2zM404 572h4v1h-4zM383 573h3v1h-3zM400 573h4v1h-4zM386 574h4v1h-4zM394 574h6v1h-6zM390 575h4v1h-4z" fill="#3cbe7e" shape-rendering="crispEdges"/>
<path d="M548 463h4v1h-4zM95 464h1v1h-1zM542 464h6v1h-6zM552 464h3v1h-3zM96 465h1v1h-1zM540 465h2v1h-2zM555 465h2v1h-2zM97 466h1v1h-1zM538 466h2v1h-2zM557 466h2v1h-2zM97 467h1v1h-1zM536 467h2v1h-2zM559 467h2v1h-2zM98 468h1v1h-1zM534 468h2v1h-2zM561 468h1v1h-1zM99 469h1v1h-1zM532 469h2v1h-2zM562 469h1v1h-1zM99 470h1v1h-1zM531 470h1v1h-1zM563 470h2v1h-2zM100 471h1v1h-1zM529 471h2v1h-2zM565 471h1v1h-1zM101 472h1v1h-1zM528 472h1v1h-1zM566 472h1v1h-1zM101 473h1v1h-1zM526 473h2v1h-2zM567 473h4v1h-4zM102 474h1v1h-1zM524 474h2v1h-2zM571 474h3v1h-3zM103 475h1v1h-1zM523 475h1v1h-1zM574 475h3v1h-3zM103 476h2v1h-2zM521 476h2v1h-2zM577 476h3v1h-3zM105 477h1v1h-1zM520 477h1v1h-1zM580 477h3v1h-3zM106 478h1v1h-1zM518 478h2v1h-2zM583 478h3v1h-3zM107 479h1v1h-1zM517 479h1v1h-1zM586 479h3v1h-3zM108 480h1v1h-1zM516 480h1v1h-1zM589 480h2v1h-2zM109 481h1v1h-1zM515 481h1v1h-1zM591 481h3v1h-3zM110 482h1v1h-1zM514 482h1v1h-1zM594 482h2v1h-2zM111 483h1v1h-1zM513 483h1v1h-1zM596 483h3v1h-3zM112 484h1v1h-1zM512 484h1v1h-1zM599 484h1v1h-1zM113 485h1v1h-1zM509 485h3v1h-3zM600 485h1v1h-1zM114 486h1v1h-1zM504 486h5v1h-5zM601 486h1v1h-1zM115 487h1v1h-1zM502 487h2v1h-2zM602 487h1v1h-1zM115 488h1v1h-1zM500 488h2v1h-2zM603 488h1v1h-1zM116 489h1v1h-1zM498 489h2v1h-2zM604 489h1v1h-1zM117 490h1v1h-1zM496 490h2v1h-2zM605 490h1v1h-1zM613 490h3v1h-3zM118 491h1v1h-1zM488 491h8v1h-8zM606 491h1v1h-1zM609 491h4v1h-4zM616 491h1v1h-1zM119 492h1v1h-1zM484 492h4v1h-4zM607 492h2v1h-2zM617 492h1v1h-1zM119 493h2v1h-2zM480 493h4v1h-4zM618 493h2v1h-2zM121 494h2v1h-2zM478 494h2v1h-2zM620 494h1v1h-1zM123 495h1v1h-1zM477 495h1v1h-1zM621 495h1v1h-1zM124 496h2v1h-2zM476 496h1v1h-1zM622 496h1v1h-1zM126 497h1v1h-1zM475 497h1v1h-1zM623 497h1v1h-1zM127 498h2v1h-2zM474 498h1v1h-1zM624 498h1v1h-1zM129 499h2v1h-2zM473 499h1v1h-1zM624 499h1v1h-1zM131 500h2v1h-2zM472 500h1v1h-1zM625 500h1v1h-1zM133 501h2v1h-2zM470 501h2v1h-2zM626 501h1v1h-1zM135 502h5v1h-5zM469 502h1v1h-1zM626 502h1v1h-1zM140 503h8v1h-8zM467 503h2v1h-2zM627 503h1v1h-1zM148 504h5v1h-5zM466 504h1v1h-1zM628 504h1v1h-1zM153 505h1v1h-1zM464 505h2v1h-2zM628 505h1v1h-1zM154 506h2v1h-2zM463 506h1v1h-1zM629 506h1v1h-1zM156 507h2v1h-2zM462 507h1v1h-1zM630 507h1v1h-1zM158 508h1v1h-1zM461 508h1v1h-1zM630 508h1v1h-1zM159 509h1v1h-1zM460 509h1v1h-1zM631 509h1v1h-1zM160 510h1v1h-1zM459 510h1v1h-1zM161 511h1v1h-1zM458 511h1v1h-1zM162 512h1v1h-1zM457 512h1v1h-1zM163 513h1v1h-1zM456 513h1v1h-1zM164 514h1v1h-1zM455 514h1v1h-1zM165 515h1v1h-1zM454 515h1v1h-1zM166 516h1v1h-1zM453 516h1v1h-1zM167 517h1v1h-1zM452 517h1v1h-1zM168 518h1v1h-1zM451 518h1v1h-1zM168 519h1v1h-1zM450 519h1v1h-1zM169 520h1v1h-1zM449 520h1v1h-1zM169 521h1v1h-1zM448 521h1v1h-1zM170 522h1v1h-1zM447 522h1v1h-1zM170 523h1v1h-1zM447 523h1v1h-1zM171 524h1v1h-1zM446 524h1v1h-1zM171 525h1v1h-1zM445 525h1v1h-1zM172 526h1v1h-1zM445 526h1v1h-1zM172 527h1v1h-1zM444 527h1v1h-1zM173 528h1v1h-1zM443 528h1v1h-1zM173 529h1v1h-1zM442 529h1v1h-1zM174 530h1v1h-1zM442 530h1v1h-1zM174 531h1v1h-1zM441 531h1v1h-1zM175 532h1v1h-1zM440 532h1v1h-1zM175 533h1v1h-1zM440 533h1v1h-1zM176 534h1v1h-1zM439 534h1v1h-1zM177 535h1v1h-1zM438 535h1v1h-1zM178 536h1v1h-1zM437 536h1v1h-1zM179 537h1v1h-1zM437 537h1v1h-1zM180 538h1v1h-1zM436 538h1v1h-1zM181 539h1v1h-1zM435 539h1v1h-1zM182 540h1v1h-1zM435 540h1v1h-1zM183 541h1v1h-1zM434 541h1v1h-1zM183 542h1v1h-1zM433 542h1v1h-1zM184 543h1v1h-1zM433 543h1v1h-1zM185 544h1v1h-1zM432 544h1v1h-1zM185 545h1v1h-1zM431 545h1v1h-1zM186 546h1v1h-1zM429 546h2v1h-2zM186 547h1v1h-1zM427 547h2v1h-2zM187 548h1v1h-1zM425 548h2v1h-2zM188 549h1v1h-1zM424 549h1v1h-1zM188 550h1v1h-1zM422 550h2v1h-2zM189 551h1v1h-1zM420 551h2v1h-2zM189 552h1v1h-1zM334 552h6v1h-6zM419 552h1v1h-1zM190 553h1v1h-1zM332 553h2v1h-2zM340 553h5v1h-5zM417 553h2v1h-2zM191 554h1v1h-1zM330 554h2v1h-2zM345 554h3v1h-3zM416 554h1v1h-1zM191 555h2v1h-2zM328 555h2v1h-2zM348 555h3v1h-3zM415 555h1v1h-1zM193 556h1v1h-1zM327 556h1v1h-1zM351 556h1v1h-1zM414 556h1v1h-1zM194 557h1v1h-1zM326 557h1v1h-1zM352 557h1v1h-1zM413 557h1v1h-1zM195 558h1v1h-1zM325 558h1v1h-1zM353 558h1v1h-1zM412 558h1v1h-1zM196 559h1v1h-1zM324 559h1v1h-1zM353 559h1v1h-1zM411 559h1v1h-1zM197 560h1v1h-1zM323 560h1v1h-1zM354 560h1v1h-1zM410 560h1v1h-1zM198 561h1v1h-1zM322 561h1v1h-1zM355 561h1v1h-1zM409 561h1v1h-1zM199 562h2v1h-2zM277 562h6v1h-6zM322 562h1v1h-1zM356 562h1v1h-1zM408 562h1v1h-1zM201 563h1v1h-1zM272 563h5v1h-5zM283 563h6v1h-6zM321 563h1v1h-1zM356 563h1v1h-1zM407 563h1v1h-1zM202 564h1v1h-1zM269 564h3v1h-3zM289 564h2v1h-2zM320 564h1v1h-1zM357 564h1v1h-1zM406 564h1v1h-1zM203 565h2v1h-2zM267 565h2v1h-2zM291 565h2v1h-2zM318 565h2v1h-2zM358 565h1v1h-1zM406 565h1v1h-1zM205 566h1v1h-1zM264 566h3v1h-3zM293 566h2v1h-2zM316 566h2v1h-2zM359 566h1v1h-1zM405 566h1v1h-1zM206 567h1v1h-1zM262 567h2v1h-2zM295 567h2v1h-2zM314 567h2v1h-2zM359 567h1v1h-1zM404 567h1v1h-1zM207 568h6v1h-6zM218 568h7v1h-7zM259 568h3v1h-3zM297 568h3v1h-3zM312 568h2v1h-2zM360 568h1v1h-1zM403 568h1v1h-1zM213 569h5v1h-5zM225 569h2v1h-2zM257 569h2v1h-2zM300 569h3v1h-3zM305 569h7v1h-7zM360 569h1v1h-1zM402 569h1v1h-1zM227 570h2v1h-2zM253 570h4v1h-4zM303 570h2v1h-2zM361 570h1v1h-1zM402 570h1v1h-1zM229 571h2v1h-2zM232 571h12v1h-12zM249 571h4v1h-4zM361 571h1v1h-1zM401 571h1v1h-1zM231 572h1v1h-1zM244 572h5v1h-5zM362 572h1v1h-1zM400 572h1v1h-1zM362 573h1v1h-1zM399 573h1v1h-1zM363 574h1v1h-1zM399 574h1v1h-1zM363 575h1v1h-1zM398 575h1v1h-1zM364 576h1v1h-1zM397 576h1v1h-1zM364 577h1v1h-1zM396 577h1v1h-1zM365 578h1v1h-1zM396 578h1v1h-1zM365 579h1v1h-1zM395 579h1v1h-1zM366 580h1v1h-1zM394 580h1v1h-1zM366 581h1v1h-1zM393 581h1v1h-1zM367 582h1v1h-1zM392 582h1v1h-1zM368 583h2v1h-2zM392 583h1v1h-1zM370 584h2v1h-2zM386 584h6v1h-6zM372 585h1v1h-1zM381 585h5v1h-5zM373 586h2v1h-2zM377 586h4v1h-4zM375 587h2v1h-2z" fill="#2484fa" shape-rendering="crispEdges"/>
<g shape-rendering="crispEdges" fill="#c9d2df">
<rect x="175" y="590" width="1" height="5"/>
<rect x="359" y="590" width="1" height="5"/>
<rect x="519" y="590" width="1" height="5"/>
</g>
<g font-family="'Liberation Sans',sans-serif" font-size="12" font-weight="bold" fill="#2b2f3f">
<text x="177.6" y="603">2024/05</text><text x="361.6" y="603">2024/06</text><text x="521.6" y="603">2024/07</text>
</g>
<rect x="20.2" y="590.5" width="69.3" height="19" fill="#fff" stroke="#d3dae5" stroke-width="1.4"/>
<text x="34.3" y="606" fill="#ff7f00" font-family="'Liberation Sans','Noto Sans CJK SC',sans-serif" font-size="12.8" font-weight="bold">日线</text>
<path d="M68.7 596.9l4.4 8h-8.8z" fill="#ff7f00"/>
<rect x="99.7" y="611" width="58" height="15" fill="#ff6600"/>
<g shape-rendering="crispEdges" fill="#c9d2de">
<rect x="19" y="611" width="1" height="15"/>
<rect x="59" y="611" width="1" height="15"/>
<rect x="98" y="611" width="1" height="15"/>
<rect x="233" y="611" width="1" height="15"/>
<rect x="291" y="611" width="1" height="15"/>
<rect x="349" y="611" width="1" height="15"/>
<rect x="400" y="611" width="1" height="15"/>
<rect x="453" y="611" width="1" height="15"/>
<rect x="523" y="611" width="1" height="15"/>
<rect x="551" y="611" width="1" height="15"/>
<rect x="551" y="624.4" width="181" height="1" fill="#ccd4e0"/>
</g>
<g font-family="'Liberation Sans','Noto Serif CJK SC',serif" font-size="12" font-weight="500" fill="#000">
<text x="28.6" y="623">指标</text><text x="67.8" y="623">模板</text>
</g>
<text x="107.6" y="622.5" fill="#fff" font-family="'Liberation Serif',serif" font-size="12" textLength="17.5" lengthAdjust="spacingAndGlyphs">VIP</text>
<text x="125.9" y="623" fill="#fff" font-family="'Liberation Serif','Noto Serif CJK SC',serif" font-size="12">指标</text>
<g font-family="'Liberation Serif',serif" font-size="12.5" fill="#111">
<text x="166.4" y="622.5" textLength="59.2" lengthAdjust="spacingAndGlyphs">BARUPDN_UD</text>
<text x="242.2" y="622.5" textLength="41.2" lengthAdjust="spacingAndGlyphs">BIAS_UD</text>
<text x="300.3" y="622.5" textLength="41.2" lengthAdjust="spacingAndGlyphs">BOLL_UD</text>
<text x="357.7" y="622.5" textLength="35.2" lengthAdjust="spacingAndGlyphs">CCI_UD</text>
<text x="408.7" y="622.5" textLength="35.2" lengthAdjust="spacingAndGlyphs">DMI_UD</text>
<text x="462.4" y="622.5" textLength="53.2" lengthAdjust="spacingAndGlyphs">INSIDE_UD</text>
<text x="532.5" y="622.5" textLength="11.2" lengthAdjust="spacingAndGlyphs">&gt;&gt;</text>
</g>
</svg>
</body></html>
